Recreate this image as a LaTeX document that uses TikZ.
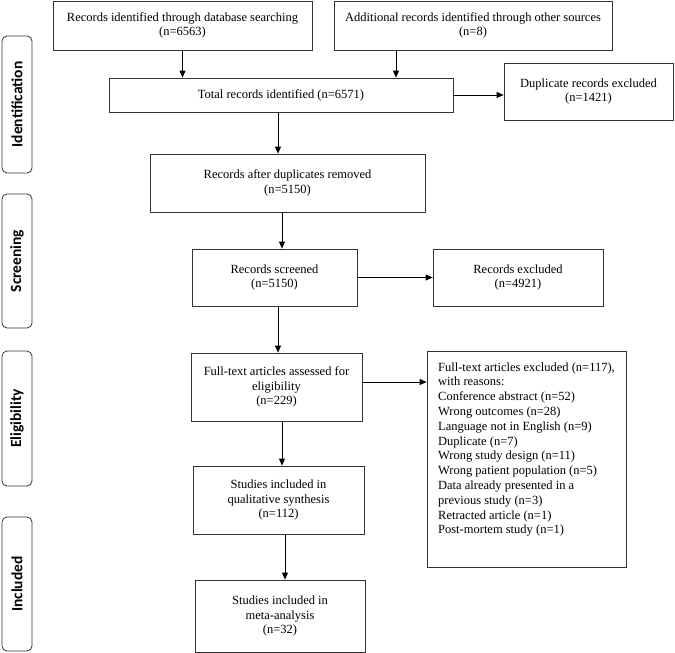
\documentclass[tikz,border=0pt]{standalone}
\usepackage{fontspec}
\setmainfont{Liberation Serif}
\newfontfamily\stagefont{Carlito}
\usepackage{tikz}
\usetikzlibrary{arrows.meta}

\begin{document}
\begin{tikzpicture}[
    x=1pt, y=-1pt,
    box/.style={
      draw=black!80, line width=0.8pt, align=center, inner sep=2pt,
      font=\fontsize{12.5}{14.8}\selectfont
    },
    stage/.style={
      draw=black!80, line width=0.8pt, rounded corners=5pt, rotate=90,
      minimum height=30pt, font=\stagefont\bfseries\fontsize{15.5}{17}\selectfont
    },
    arr/.style={-{Triangle[length=7pt, width=6pt]}, line width=0.8pt},
  ]
    \useasboundingbox (0,0) rectangle (675,653);

    % --- Stage labels ---
    \node[stage, minimum width=137pt] (stident)  at (17,104.5) {Identification};
    \node[stage, minimum width=134pt] (stscreen) at (17,261)   {Screening};
    \node[stage, minimum width=135pt] (stelig)   at (17,418.5) {Eligibility};
    \node[stage, minimum width=134pt] (stincl)   at (17,584)   {Included};

    % --- Identification ---
    \node[box, minimum width=259pt, minimum height=49pt] (dbsearch) at (182.5,25.5)
      {Records identified through database searching\\(n=6563)};
    \node[box, minimum width=278pt, minimum height=49pt] (othersrc) at (473,25.5)
      {Additional records identified through other sources\\(n=8)};
    \node[box, minimum width=344pt, minimum height=34pt] (total) at (281,95)
      {Total records identified (n=6571)};
    \node[box, minimum width=169pt, minimum height=57pt] (dupexcl) at (588.5,91.5)
      {Duplicate records excluded\\(n=1421)};
    \node[box, minimum width=275pt, minimum height=58pt] (afterdup) at (287.5,183)
      {Records after duplicates removed\\(n=5150)};

    % --- Screening ---
    \node[box, minimum width=165pt, minimum height=57pt] (screened) at (274.5,277.5)
      {Records screened\\(n=5150)};
    \node[box, minimum width=170pt, minimum height=57pt] (recexcl) at (518,277.5)
      {Records excluded\\(n=4921)};

    % --- Eligibility ---
    \node[box, minimum width=171pt, minimum height=68pt] (fulltext) at (276.5,387)
      {Full-text articles assessed for\\eligibility\\(n=229)};
    \node[box, align=left, minimum width=199pt, minimum height=216pt] (ftexcl) at (526.5,459)
      {Full-text articles excluded (n=117),\\with reasons:\\Conference abstract (n=52)\\
       Wrong outcomes (n=28)\\Language not in English (n=9)\\Duplicate (n=7)\\
       Wrong study design (n=11)\\Wrong patient population (n=5)\\
       Data already presented in a\\previous study (n=3)\\Retracted article (n=1)\\
       Post-mortem study (n=1)\\[7pt]\mbox{}};

    % --- Included ---
    \node[box, minimum width=171pt, minimum height=68pt] (qualsyn) at (278.5,500)
      {Studies included in\\qualitative synthesis\\(n=112)};
    \node[box, minimum width=170pt, minimum height=72pt] (metaana) at (280,616)
      {Studies included in\\meta-analysis\\(n=32)};

    % --- Arrow start points ---
    \coordinate (othersrcout) at ([xshift=-77pt]othersrc.south);
    \coordinate (totalout)    at ([xshift=-3pt]total.south);
    \coordinate (afterdupout) at ([xshift=-5.5pt]afterdup.south);
    \coordinate (screenedout) at ([xshift=3.5pt]screened.south);
    \coordinate (fulltextout) at ([xshift=5.5pt]fulltext.south);
    \coordinate (fulltextexc) at ([yshift=5pt]fulltext.east);
    \coordinate (qualsynout)  at ([xshift=6.5pt]qualsyn.south);

    % --- Arrows ---
    \draw[arr] (dbsearch.south) -- (dbsearch.south |- total.north);
    \draw[arr] (othersrcout)    -- (othersrcout |- total.north);
    \draw[arr] (total.east)     -- (dupexcl.west |- total.east);
    \draw[arr] (totalout)       -- (totalout |- afterdup.north);
    \draw[arr] (afterdupout)    -- (afterdupout |- screened.north);
    \draw[arr] (screened.east)  -- (recexcl.west);
    \draw[arr] (screenedout)    -- (screenedout |- fulltext.north);
    \draw[arr] (fulltextexc)    -- (ftexcl.west |- fulltextexc);
    \draw[arr] (fulltextout)    -- (fulltextout |- qualsyn.north);
    \draw[arr] (qualsynout)     -- (qualsynout |- metaana.north);
  \end{tikzpicture}
\end{document}
